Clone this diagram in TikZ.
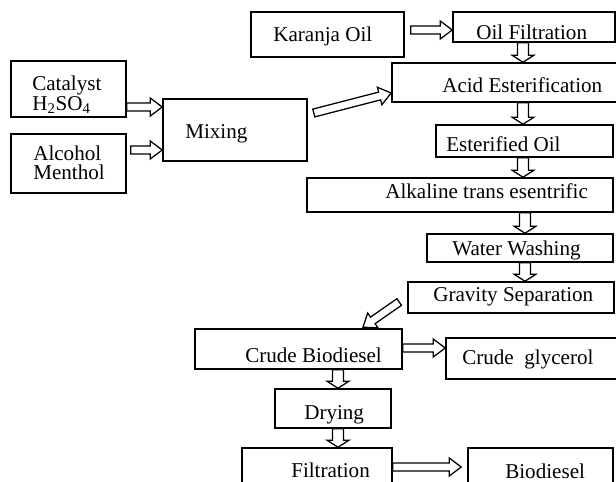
\documentclass[tikz,border=0pt]{standalone}
\usepackage{fontspec}
\setmainfont{Liberation Serif}
\usetikzlibrary{calc}

\begin{document}
\begin{tikzpicture}[
  x=0.025cm, y=-0.025cm,
  box/.style={draw, line width=1.1pt, inner sep=0pt},
  txt/.style={font=\fontsize{15}{17}\selectfont, inner sep=0pt, anchor=base west},
  shaft/.store in=\shafthw,
  headw/.store in=\headhw,
  headl/.store in=\headlen,
  blk/.style={draw, line width=0.9pt, fill=white,
    to path={let \p1=(\tikztostart), \p2=(\tikztotarget),
                 \p3=($(\p2)!\headlen!(\p1)$) in
      ($(\p1)!\shafthw!90:(\p2)$) -- ($(\p3)!\shafthw!90:(\p2)$)
      -- ($(\p3)!\headhw!90:(\p2)$) -- (\p2)
      -- ($(\p3)!\headhw!-90:(\p2)$) -- ($(\p3)!\shafthw!-90:(\p2)$)
      -- ($(\p1)!\shafthw!-90:(\p2)$) -- cycle}},
  harr/.style={blk, shaft=2.85pt, headw=6.4pt, headl=8.5pt},
  varr/.style={blk, shaft=3.9pt, headw=7.8pt, headl=5pt},
]

\useasboundingbox (0,0) rectangle (616,481);
\clip (0,0) rectangle (616,481);

% ===== Feed: catalyst, alcohol, mixing ==========================================
\node[box, minimum width=2.875cm, minimum height=1.4cm]   (cat) at (68.5,89) {};
\node[box, minimum width=2.875cm, minimum height=1.475cm] (alc) at (68.5,163.5) {};
\node[box, minimum width=3.6cm,   minimum height=1.55cm]  (mix) at (235,130) {};

\node[txt] (catA) at (32,90)  {Catalyst};
\node[txt] (catB) at (32,110) {H\textsubscript{2}SO\textsubscript{4}};
\node[txt] (alcA) at (33,160) {Alcohol};
\node[txt] (alcB) at (33,179) {Menthol};
\node[txt] (mixT) at (185,138) {Mixing};

% ===== Oil line =================================================================
\node[box, minimum width=3.825cm, minimum height=1.125cm] (kar)  at (327.5,34.5) {};
\node[box, minimum width=4.05cm,  minimum height=0.75cm]  (filt) at (534,27) {};
\node[box, minimum width=5.85cm,  minimum height=0.975cm] (acid) at (509,82.5) {};
\node[box, minimum width=4.425cm, minimum height=0.8cm]   (est)  at (524.5,141) {};
\node[box, minimum width=7.65cm,  minimum height=0.85cm]  (alk)  at (460,195) {};
\node[box, minimum width=4.65cm,  minimum height=0.7cm]   (wash) at (520,248) {};
\node[box, minimum width=5.15cm,  minimum height=0.775cm] (grav) at (511,297.5) {};

\node[txt] (karT)  at (273,41)  {Karanja Oil};
\node[txt] (filtT) at (476,39)  {Oil Filtration};
\node[txt] (acidT) at (442,92)  {Acid Esterification};
\node[txt] (estT)  at (446,151) {Esterified Oil};
\node[txt] (alkT)  at (385,198) {Alkaline trans esentrific};
\node[txt] (washT) at (452,255) {Water Washing};
\node[txt] (gravT) at (433,301) {Gravity Separation};

% ===== Products =================================================================
\node[box, minimum width=5.175cm, minimum height=1.0cm]   (crude) at (298.5,349) {};
\node[box, minimum width=4.5cm,   minimum height=1.025cm] (glyc)  at (536,358.5) {};
\node[box, minimum width=2.9cm,   minimum height=0.975cm] (dry)   at (333,408.5) {};
\node[box, minimum width=3.75cm,  minimum height=1.1cm]   (filtr) at (317,470) {};
\node[box, minimum width=3.625cm, minimum height=1.1cm]   (bio)   at (540.5,470) {};

\node[txt] (crudeT) at (245,362) {Crude Biodiesel};
\node[txt] (glycT)  at (462,364) {Crude\ \ glycerol};
\node[txt] (dryT)   at (304,419) {Drying};
\node[txt] (filtrT) at (291,477) {Filtration};
\node[txt] (bioT)   at (505,478) {Biodiesel};

% ===== Block arrows =============================================================
\draw[harr] ($(cat.east)+(0,18)$)   to ($(mix.west)+(0,-23)$);
\draw[harr] ($(alc.east)+(4,-13.5)$) to ($(mix.west)+(0,20)$);
\draw[harr] ($(mix.east)+(6,-17)$)  to ($(acid.west)+(0,10.5)$);
\draw[harr] ($(kar.east)+(6,-4.5)$) to ($(filt.west)+(0,3)$);

\draw[varr] ($(filt.south)+(-11,0)$) to ($(acid.north)+(14,0)$);
\draw[varr] ($(acid.south)+(14,0)$)  to ($(est.north)+(-1.5,0)$);
\draw[varr] ($(est.south)+(-1.5,0)$) to ($(alk.north)+(63,0)$);
\draw[varr] ($(alk.south)+(65,0)$)   to ($(wash.north)+(5,0)$);
\draw[varr] ($(wash.south)+(5,0)$)   to ($(grav.north)+(14,0)$);

\draw[harr] ($(grav.west)+(-8,4.5)$) to ($(crude.north)+(64.5,-1)$);
\draw[harr] ($(crude.east)+(0,-1)$)  to ($(glyc.west)+(0,-10.5)$);
\draw[varr] ($(crude.south)+(39.5,0)$) to ($(dry.north)+(5,0)$);
\draw[varr] ($(dry.south)+(5,0)$)    to ($(filtr.north)+(21,0)$);
\draw[harr] ($(filtr.east)+(0,-3)$)  to ($(bio.west)+(-6,-3)$);

\end{tikzpicture}
\end{document}
